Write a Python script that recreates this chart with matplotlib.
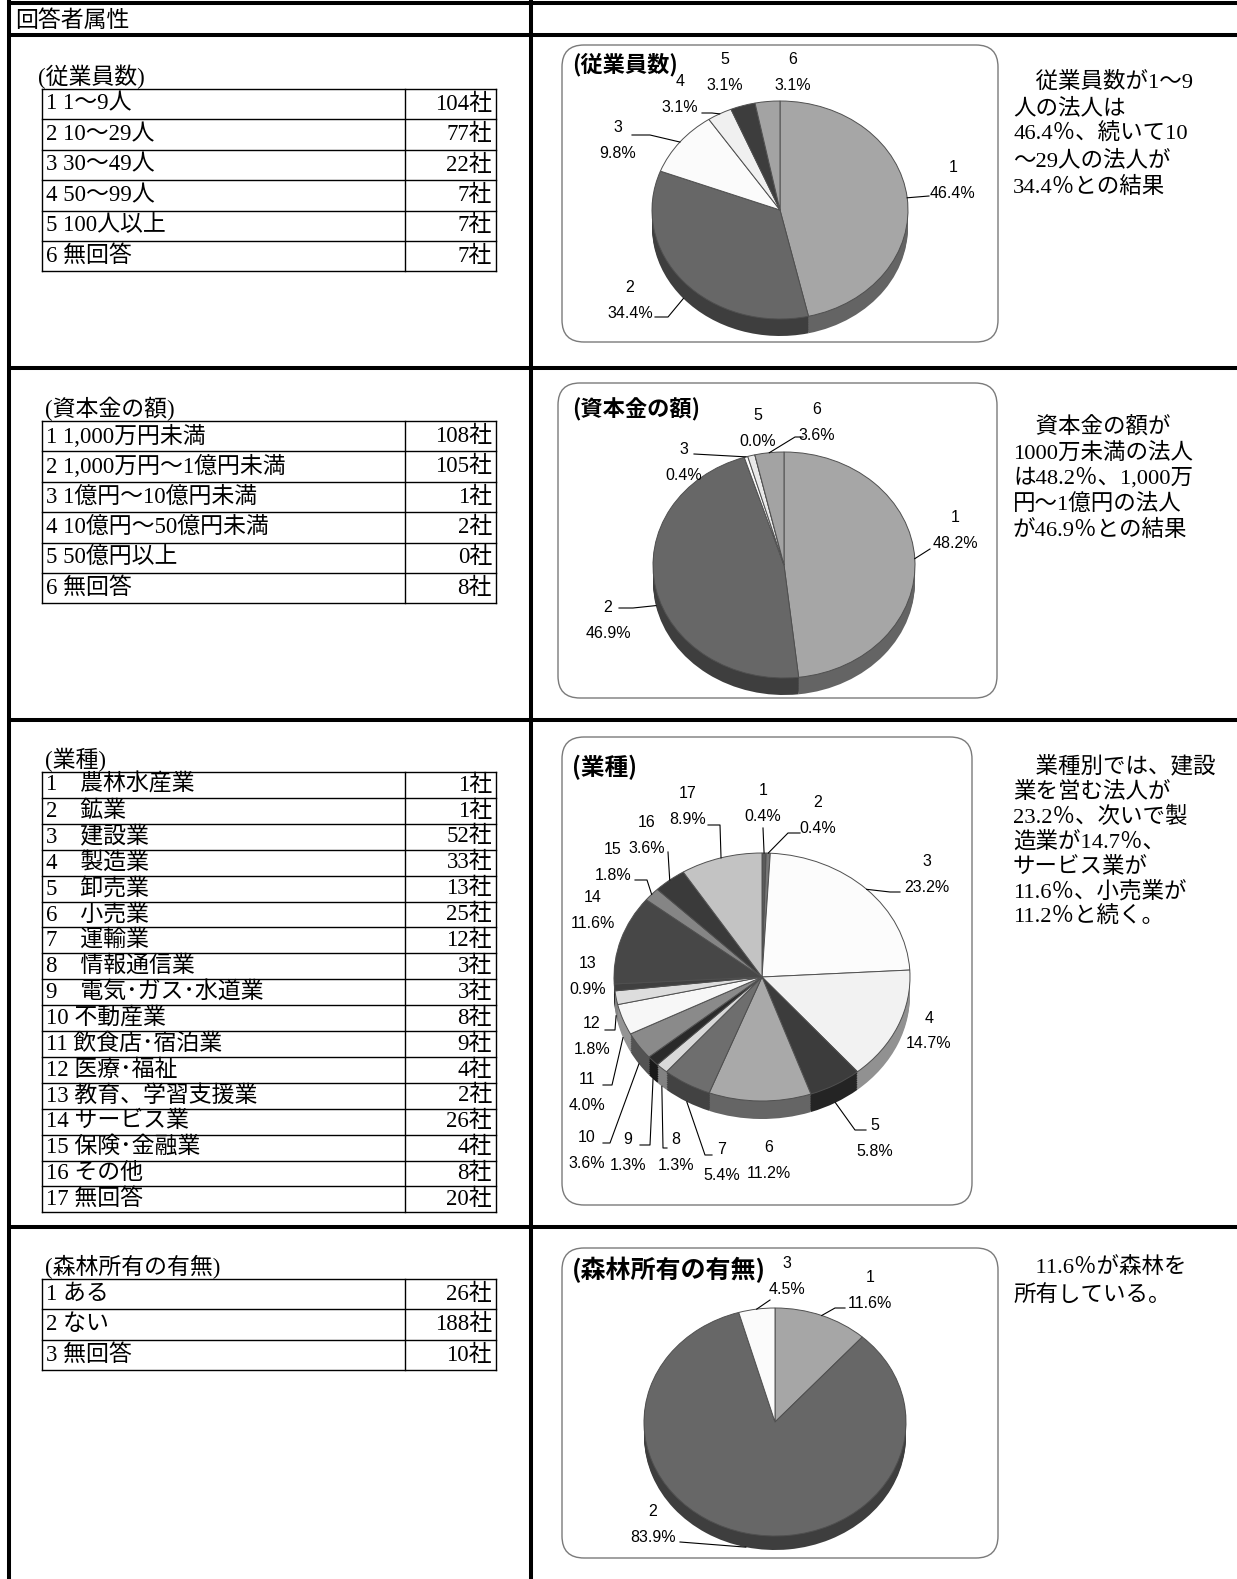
import numpy as np
import matplotlib.pyplot as plt
from matplotlib.colors import to_rgb
from matplotlib.patches import FancyBboxPatch

W, H = 1237, 1579

# ---- data read from the survey sheet ----
header_title = '回答者属性'

emp_title = '(従業員数)'
emp_labels = ['1 1〜9人', '2 10〜29人', '3 30〜49人', '4 50〜99人', '5 100人以上', '6 無回答']
emp_counts = [104, 77, 22, 7, 7, 7]

cap_title = '(資本金の額)'
cap_labels = ['1 1,000万円未満', '2 1,000万円〜1億円未満', '3 1億円〜10億円未満',
              '4 10億円〜50億円未満', '5 50億円以上', '6 無回答']
cap_counts = [108, 105, 1, 2, 0, 8]

ind_title = '(業種)'
ind_labels = ['1　農林水産業', '2　鉱業', '3　建設業', '4　製造業', '5　卸売業', '6　小売業',
              '7　運輸業', '8　情報通信業', '9　電気･ガス･水道業', '10 不動産業',
              '11 飲食店･宿泊業', '12 医療･福祉', '13 教育、学習支援業', '14 サービス業',
              '15 保険･金融業', '16 その他', '17 無回答']
ind_counts = [1, 1, 52, 33, 13, 25, 12, 3, 3, 8, 9, 4, 2, 26, 4, 8, 20]

for_title = '(森林所有の有無)'
for_labels = ['1 ある', '2 ない', '3 無回答']
for_counts = [26, 188, 10]

emp_text = ['　従業員数が1〜9', '人の法人は', '46.4％、続いて10', '〜29人の法人が', '34.4％との結果']
cap_text = ['　資本金の額が', '1000万未満の法人', 'は48.2％、1,000万', '円〜1億円の法人', 'が46.9％との結果']
ind_text = ['　業種別では、建設', '業を営む法人が', '23.2％、次いで製', '造業が14.7％、',
            'サービス業が', '11.6％、小売業が', '11.2％と続く。']
for_text = ['　11.6％が森林を', '所有している。']

# slice fills (greyscale as in the print)
emp_colors = ['#a6a6a6', '#676767', '#fbfbfb', '#f0f0f0', '#3d3d3d', '#a3a3a3']
cap_colors = ['#a6a6a6', '#676767', '#fbfbfb', '#e9e9e9', '#3d3d3d', '#a3a3a3']
ind_colors = ['#5a5a5a', '#777777', '#fcfcfc', '#f2f2f2', '#3c3c3c', '#a9a9a9', '#6e6e6e',
              '#d9d9d9', '#2a2a2a', '#8a8a8a', '#f7f7f7', '#dddddd', '#404040', '#474747',
              '#858585', '#3a3a3a', '#c3c3c3']
for_colors = ['#a6a6a6', '#676767', '#fbfbfb']

SERIF_JP = ['Liberation Serif', 'Noto Sans CJK JP']
GOTHIC = ['Noto Sans CJK JP']
ARIAL = ['Liberation Sans', 'Noto Sans CJK JP']

fig = plt.figure(figsize=(W / 100, H / 100), dpi=100)
base = fig.add_axes([0, 0, 1, 1], label='base')
base.set_xlim(0, W)
base.set_ylim(H, 0)
base.axis('off')

# ---- frame ----
thick = 2.9
DIV_X = 531
base.plot([9, 9], [0, H], color='k', lw=thick, solid_capstyle='butt')
base.plot([DIV_X, DIV_X], [0, H], color='k', lw=thick, solid_capstyle='butt')
for y in [3, 35, 368, 720, 1227]:
    base.plot([7, W], [y, y], color='k', lw=thick, solid_capstyle='butt')
base.text(15, 20, header_title, fontsize=16.5, family=GOTHIC, va='center')


def draw_table(title, labels, counts, title_x, top, row_h):
    x0, xc, x1 = 42, 405, 496
    n = len(labels)
    base.text(title_x, top - 12, title, fontsize=16.5, family=SERIF_JP, va='center')
    for i in range(n + 1):
        base.plot([x0, x1], [top + i * row_h] * 2, color='k', lw=1.0)
    for x in (x0, xc, x1):
        base.plot([x, x], [top, top + n * row_h], color='k', lw=1.0)
    for i, (lab, c) in enumerate(zip(labels, counts)):
        yc = top + (i + 0.5) * row_h
        base.text(x0 + 4, yc, lab, fontsize=16.5, family=SERIF_JP, va='center')
        base.text(x1 - 4, yc, f'{c}社', fontsize=16.5, family=SERIF_JP, va='center', ha='right')


draw_table(emp_title, emp_labels, emp_counts, 38, 89, 30.4)
draw_table(cap_title, cap_labels, cap_counts, 45, 421, 30.4)
draw_table(ind_title, ind_labels, ind_counts, 45, 772, 25.9)
draw_table(for_title, for_labels, for_counts, 45, 1279, 30.4)


def draw_text(lines, y0, pitch):
    for i, s in enumerate(lines):
        base.text(1013, y0 + i * pitch, s, fontsize=16.2, family=SERIF_JP, va='center')


draw_text(emp_text, 82, 26.3)
draw_text(cap_text, 427, 25.8)
draw_text(ind_text, 767, 25.0)
draw_text(for_text, 1268, 27.0)


def draw_pie(title, counts, colors, lay, idx):
    x0, y0, x1, y1 = lay['box']
    base.add_patch(FancyBboxPatch((x0, y0), x1 - x0, y1 - y0,
                                  boxstyle='round,pad=0,rounding_size=22',
                                  fc='white', ec='#7a7a7a', lw=1.0))
    base.text(572, lay['title_y'], title, fontsize=lay['title_size'], family=GOTHIC,
              fontweight='bold', va='center')

    cx, cy = lay['center']
    rx, ry = lay['radii']
    depth = lay['depth'] / ry
    ax = fig.add_axes([0, 0, 1, 1], label=f'pie{idx}')
    ax.axis('off')
    ax.patch.set_visible(False)

    # side of the 3-D pie: stacked darker copies under the top face
    sides = [tuple(0.6 * ch for ch in to_rgb(c)) for c in colors]
    n = 10
    for k in range(n, 0, -1):
        ax.pie(counts, colors=sides, startangle=90, counterclock=False,
               center=(0, -depth * k / n), wedgeprops=dict(linewidth=0))
    ax.pie(counts, colors=colors, startangle=90, counterclock=False,
           wedgeprops=dict(edgecolor='#505050', linewidth=0.7))
    ax.set_aspect('auto')
    ax.set_xlim(-cx / rx, (W - cx) / rx)
    ax.set_ylim((cy - H) / ry, cy / ry)

    def to_data(px, py):
        return (px - cx) / rx, (cy - py) / ry

    total = sum(counts)
    cum = np.cumsum([0] + list(counts))
    for i, (tx, ty) in lay['labels'].items():
        pct = f'{counts[i] / total * 100:.1f}%'
        ax.text(*to_data(tx, ty - 13), str(i + 1), ha='center', va='center',
                fontsize=11.5, family=ARIAL)
        ax.text(*to_data(tx, ty + 13), pct, ha='center', va='center',
                fontsize=11.5, family=ARIAL)
    for i, (sx, sy, ex) in lay['leaders'].items():
        mid = np.radians(90 - 360 * (cum[i] + counts[i] / 2) / total)
        xe, ye = np.cos(mid), np.sin(mid)
        if ye < 0:
            ye -= depth
        p0 = to_data(sx, sy)
        p1 = to_data(ex if ex is not None else sx, sy)
        ax.plot([p0[0], p1[0], xe], [p0[1], p1[1], ye], color='k', lw=0.8)


emp_layout = dict(box=(562, 45, 998, 342), center=(780, 210), radii=(128, 109), depth=17,
                  title_y=65, title_size=16,
                  labels={0: (953, 180), 1: (630, 300), 2: (618, 141), 3: (680, 95),
                          4: (725, 73), 5: (793, 73)},
                  leaders={0: (929, 196, None), 1: (655, 317, 668), 2: (632, 135, 650),
                           3: (702, 113, 712)})
cap_layout = dict(box=(558, 383, 997, 698), center=(784, 565), radii=(131, 113), depth=17,
                  title_y=410, title_size=16,
                  labels={0: (955, 531), 1: (608, 620), 2: (684, 463), 4: (758, 428),
                          5: (817, 422)},
                  leaders={0: (930, 549, None), 1: (619, 608, 633), 2: (694, 454, None),
                           5: (803, 437, 795)})
ind_layout = dict(box=(562, 737, 972, 1205), center=(762, 977), radii=(148, 124), depth=18,
                  title_y=767, title_size=17,
                  labels={0: (763, 803), 1: (818, 815), 2: (927, 874), 3: (929, 1031),
                          4: (875, 1138), 5: (769, 1160), 6: (722, 1162), 7: (676, 1153),
                          8: (628, 1153), 9: (587, 1150), 10: (587, 1092), 11: (592, 1036),
                          12: (588, 976), 13: (593, 910), 14: (613, 862), 15: (647, 835),
                          16: (688, 806)},
                  leaders={0: (763, 828, None), 1: (800, 833, 788), 2: (900, 892, 890),
                           4: (866, 1130, 855), 6: (712, 1155, 705), 7: (667, 1148, 663),
                           8: (640, 1145, 650), 9: (603, 1143, 610), 10: (603, 1085, 612),
                           11: (605, 1030, 615), 14: (635, 880, 647), 15: (668, 852, None),
                           16: (708, 825, 720)})
for_layout = dict(box=(562, 1248, 998, 1558), center=(775, 1422), radii=(131, 114), depth=14,
                  title_y=1270, title_size=18,
                  labels={2: (787, 1276), 0: (870, 1290), 1: (653, 1525)},
                  leaders={2: (770, 1300, None), 0: (845, 1308, 835), 1: (680, 1542, None)})

draw_pie(emp_title, emp_counts, emp_colors, emp_layout, 1)
draw_pie(cap_title, cap_counts, cap_colors, cap_layout, 2)
draw_pie(ind_title, ind_counts, ind_colors, ind_layout, 3)
draw_pie(for_title, for_counts, for_colors, for_layout, 4)

fig.savefig('out.png', dpi=100)
